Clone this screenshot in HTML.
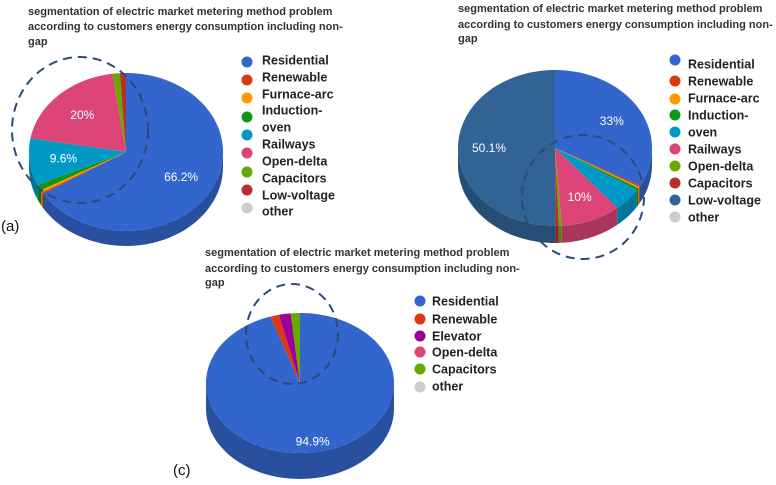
<!DOCTYPE html>
<html><head><meta charset="utf-8"><style>
html,body{margin:0;padding:0;background:#fff;}
svg{display:block;}
.t{font-family:"Liberation Sans",Arial,sans-serif;font-weight:bold;font-size:11px;fill:#333;}
.lg{font-family:"Liberation Sans",Arial,sans-serif;font-weight:bold;font-size:12.5px;fill:#222;}
.pl{font-family:"Liberation Sans",Arial,sans-serif;font-size:12px;fill:#fff;}
.cap{font-family:"Liberation Sans",Arial,sans-serif;font-size:15px;fill:#111;}
</style></head><body>
<svg id="s" width="776" height="485" viewBox="0 0 776 485" xmlns="http://www.w3.org/2000/svg">
<g>
<text class="t" x="28" y="15">segmentation of electric market metering method problem</text>
<text class="t" x="28" y="30">according to customers energy consumption including non-</text>
<text class="t" x="28" y="45">gap</text></g>
<g>
<text class="t" x="458" y="12">segmentation of electric market metering method problem</text>
<text class="t" x="458" y="28">according to customers energy consumption including non-</text>
<text class="t" x="458" y="42">gap</text></g>
<g>
<text class="t" x="205" y="256">segmentation of electric market metering method problem</text>
<text class="t" x="205" y="272">according to customers energy consumption including non-</text>
<text class="t" x="205" y="286">gap</text></g>
<text class="cap" x="1" y="231">(a)</text>
<text class="cap" x="537" y="233">(b)</text>
<text class="cap" x="173" y="475">(c)</text>
</svg>
<script>
const NS="http://www.w3.org/2000/svg";
const svg=document.getElementById('s');
// Chart A data
const catsA=["Residential","Renewable","Furnace-arc","Induction-oven","Railways","Open-delta","Capacitors","Low-voltage","other"];
const valsA=[66.2,0.3,0.5,1.2,9.6,20,1.2,1.0,0];
const colsA=["#3366cc","#dc3912","#ff9900","#109618","#0099c6","#dd4477","#66aa00","#b82e2e","#cccccc"];
const labelsA=["66.2%","","","","9.6%","20%","","",""];
// Chart B data
const catsB=["Residential","Renewable","Furnace-arc","Induction","oven","Railways","Open-delta","Capacitors","Low-voltage","other"];
const valsB=[33,0.3,0.3,0.5,4.8,10,0.5,0.5,50.1,0];
const colsB=["#3366cc","#dc3912","#ff9900","#109618","#0099c6","#dd4477","#66aa00","#b82e2e","#316395","#cccccc"];
const labelsB=["33%","","","","","10%","","","50.1%",""];
// Chart C data
const catsC=["Residential","Renewable","Elevator","Open-delta","Capacitors","other"];
const valsC=[94.9,1.5,2.0,0,1.6,0];
const colsC=["#3366cc","#dc3912","#990099","#dd4477","#66aa00","#cccccc"];
const labelsC=["94.9%","","","","",""];

function dark(c){const n=parseInt(c.slice(1),16);let r=n>>16,g=(n>>8)&255,b=n&255;
 return "rgb("+Math.round(r*.78)+","+Math.round(g*.78)+","+Math.round(b*.78)+")";}
function pie(id,vals,cols,labels,cx,cy,rx,ry,depth,labPos){
 const g=document.createElementNS(NS,'g');
 
 
 svg.appendChild(g);
 const tot=vals.reduce((a,b)=>a+b,0);
 const P=(a,dy)=>[cx+rx*Math.sin(a),cy-ry*Math.cos(a)+(dy||0)];
 let acc=0;const sl=[];
 vals.forEach((v,i)=>{const a1=acc/tot*2*Math.PI;acc+=v;const a2=acc/tot*2*Math.PI;sl.push([a1,a2,i]);});
 sl.forEach(([a1,a2,i])=>{
  const s=Math.max(a1,Math.PI/2),e=Math.min(a2,3*Math.PI/2);
  if(e<=s) return;
  let pts=[];const n=40;
  for(let k=0;k<=n;k++)pts.push(P(s+(e-s)*k/n));
  for(let k=n;k>=0;k--)pts.push(P(s+(e-s)*k/n,depth));
  const p=document.createElementNS(NS,'polygon');
  p.setAttribute('points',pts.map(q=>q[0].toFixed(1)+","+q[1].toFixed(1)).join(' '));
  p.setAttribute('fill',dark(cols[i]));
  
  
  g.appendChild(p);
 });
 sl.forEach(([a1,a2,i])=>{
  if(a2<=a1) return;
  let pts=[[cx,cy]];const n=Math.max(4,Math.ceil((a2-a1)*40));
  for(let k=0;k<=n;k++)pts.push(P(a1+(a2-a1)*k/n));
  const p=document.createElementNS(NS,'polygon');
  p.setAttribute('points',pts.map(q=>q[0].toFixed(1)+","+q[1].toFixed(1)).join(' '));
  p.setAttribute('fill',cols[i]);
  
  
  g.appendChild(p);
  if(labels[i]){
   const m=(a1+a2)/2;const f=labPos;
   const t=document.createElementNS(NS,'text');
   t.setAttribute('x',(cx+rx*f*Math.sin(m)).toFixed(1));
   t.setAttribute('y',(cy-ry*f*Math.cos(m)+4).toFixed(1));
   t.setAttribute('text-anchor','middle');t.setAttribute('class','pl');
   t.textContent=labels[i];
   
   
   g.appendChild(t);
  }
 });
}
pie('pie-a',valsA,colsA,labelsA,126,152,97,79,15,0.65);
pie('pie-b',valsB,colsB,labelsB,555,148,97,78,17,0.68);
pie('pie-c',valsC,colsC,labelsC,300,383,94,70,26,0.85);

function dashed(name,cx,cy,rx,ry){
 const e=document.createElementNS(NS,'ellipse');
 e.setAttribute('cx',cx);e.setAttribute('cy',cy);e.setAttribute('rx',rx);e.setAttribute('ry',ry);
 e.setAttribute('fill','none');e.setAttribute('stroke','#2d4a78');e.setAttribute('stroke-width','2');
 e.setAttribute('stroke-dasharray','9 6');
 
 
 svg.appendChild(e);
}
dashed('highlight-circle-a',80,130,68,73);
dashed('highlight-circle-b',583,197,61,62);
dashed('highlight-circle-c',292,334,46,50);

function legend(name,dotX,dotYs,cols,textX,textYs,texts){
 const g=document.createElementNS(NS,'g');
 
 
 svg.appendChild(g);
 dotYs.forEach((y,i)=>{const c=document.createElementNS(NS,'circle');
  c.setAttribute('cx',dotX);c.setAttribute('cy',y);c.setAttribute('r',5.5);c.setAttribute('fill',cols[i]);
  
  
  g.appendChild(c);});
 textYs.forEach((y,i)=>{const t=document.createElementNS(NS,'text');
  t.setAttribute('x',textX);t.setAttribute('y',y+4.5);t.setAttribute('class','lg');t.textContent=texts[i];
  
  
  g.appendChild(t);});
}
legend('legend-a',247,[62,80,98,117,135,153,172,190,208],colsA,262,
 [60,77,94,110,127,144,161,178,195,211],
 ["Residential","Renewable","Furnace-arc","Induction-","oven","Railways","Open-delta","Capacitors","Low-voltage","other"]);
legend('legend-b',675,[60,81,99,115,132,149,166,183,200,217],colsB,688,
 [64,81,98,115,132,149,166,183,200,217],
 ["Residential","Renewable","Furnace-arc","Induction-","oven","Railways","Open-delta","Capacitors","Low-voltage","other"]);
legend('legend-c',420,[301,319,336,352,369,387],colsC,432,
 [301,319,336,352,369,386],
 ["Residential","Renewable","Elevator","Open-delta","Capacitors","other"]);
</script>
</body></html>
